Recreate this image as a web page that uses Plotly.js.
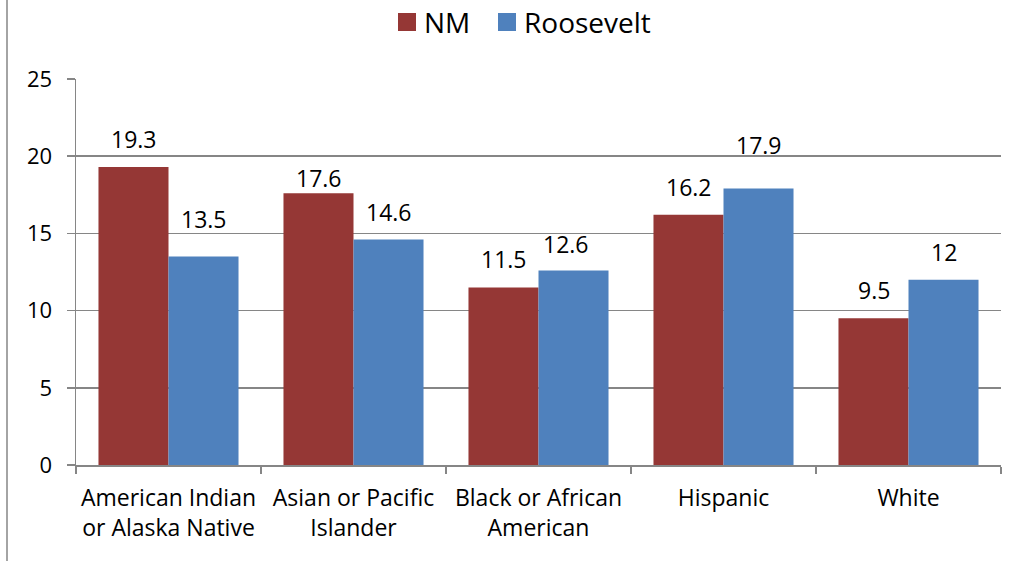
<!DOCTYPE html>
<html><head><meta charset="utf-8">
<script src="https://cdn.plot.ly/plotly-3.0.1.min.js"></script>
<style>html,body{margin:0;padding:0;background:#fff}#chart{width:1019px;height:561px}</style>
</head><body><div id="chart"></div>
<script>
const categories = ["American Indian<br>or Alaska Native", "Asian or Pacific<br>Islander", "Black or African<br>American", "Hispanic", "White"];
const nmValues = [19.3, 17.6, 11.5, 16.2, 9.5];
const rooseveltValues = [13.5, 14.6, 12.6, 17.9, 12];
const seriesNames = ["NM", "Roosevelt"];
const seriesColors = ["#953735", "#4F81BD"];
const yTicks = [0, 5, 10, 15, 20, 25];
// label gap above bar (px, baseline to bar top) as placed in the original
const nmLabelGap = [19, 6, 19, 19, 19];
const rooseveltLabelGap = [29, 19, 17, 35, 19];
const rooseveltLabelDx = [0, 0, -8, 0, 0];

const FONT = "'Open Sans', sans-serif";
const L = 76, R = 18, T = 79, B = 96, W = 1019, H = 561;
const PW = W - L - R, PH = H - T - B;
const px2x = p => (p - L) / PW;
const py2y = p => (H - B - p) / PH;

const traces = [
  {type: "bar", name: seriesNames[0], x: categories, y: nmValues, marker: {color: seriesColors[0]}, hoverinfo: "none", showlegend: false},
  {type: "bar", name: seriesNames[1], x: categories, y: rooseveltValues, marker: {color: seriesColors[1]}, hoverinfo: "none", showlegend: false}
];

const annotations = [];
[[nmValues, -35, nmLabelGap, [0,0,0,0,0]], [rooseveltValues, 35, rooseveltLabelGap, rooseveltLabelDx]].forEach(([vals, dx, gaps, ddx]) => {
  vals.forEach((v, i) => {
    annotations.push({x: categories[i], y: v, xref: "x", yref: "y", text: String(v), showarrow: false,
      xshift: dx + ddx[i], yshift: gaps[i] - 8, yanchor: "bottom", borderpad: 0,
      font: {family: FONT, size: 23, color: "#000"}});
  });
});

// legend drawn manually (larger square keys, as in the original)
const legendKeyX = [398, 498];
const shapes = [{type: "line", xref: "paper", yref: "paper", x0: px2x(7), x1: px2x(7), y0: py2y(561), y1: py2y(0),
  line: {color: "#868686", width: 1.5}}];
seriesNames.forEach((name, k) => {
  shapes.push({type: "rect", xref: "paper", yref: "paper", x0: px2x(legendKeyX[k]), x1: px2x(legendKeyX[k] + 18),
    y0: py2y(31), y1: py2y(13), fillcolor: seriesColors[k], line: {width: 0}});
  annotations.push({xref: "paper", yref: "paper", x: px2x(legendKeyX[k] + 24), y: py2y(22), xanchor: "left", yanchor: "middle",
    text: name, showarrow: false, font: {family: FONT, size: 28, color: "#000"}});
});

const layout = {
  width: W, height: H,
  margin: {l: L, r: R, t: T, b: B},
  paper_bgcolor: "#fff", plot_bgcolor: "#fff",
  barmode: "group", bargap: 0.243, bargroupgap: 0,
  font: {family: FONT, size: 20, color: "#000"},
  showlegend: false,
  xaxis: {type: "category", showline: true, linecolor: "#868686", linewidth: 1.5, ticks: "outside", tickson: "boundaries",
    ticklen: 7, tickcolor: "#868686", tickwidth: 1.5, showgrid: false, tickangle: 0, automargin: false,
    tickfont: {family: FONT, size: 23}, ticklabelstandoff: 12, fixedrange: true},
  yaxis: {range: [0, 25], tickvals: yTicks, showline: true, linecolor: "#868686", linewidth: 1.5, ticks: "outside",
    ticklen: 8, tickcolor: "#868686", tickwidth: 1.5, showgrid: true, gridcolor: "#868686", gridwidth: 1.5,
    zeroline: false, tickfont: {family: FONT, size: 22}, ticklabelstandoff: 10, fixedrange: true},
  annotations: annotations,
  shapes: shapes
};
Plotly.newPlot("chart", traces, layout, {displayModeBar: false, staticPlot: true});
</script></body></html>
